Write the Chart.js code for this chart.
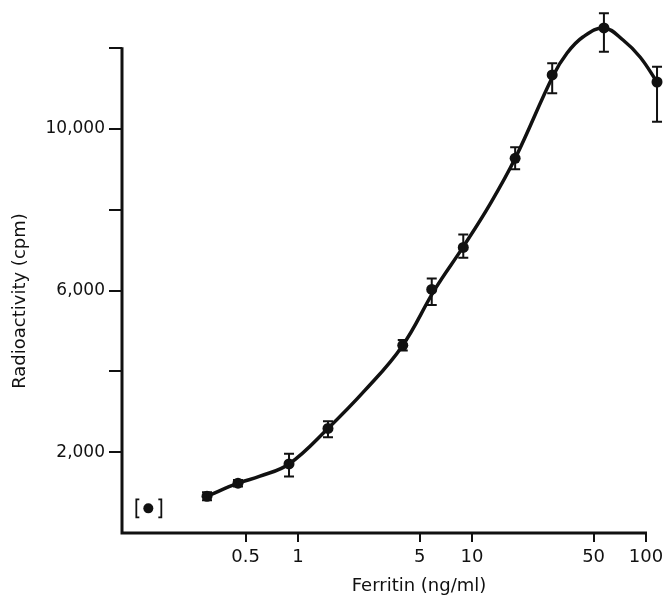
<!DOCTYPE html>
<html>
<head>
<meta charset="utf-8">
<script src="https://cdn.jsdelivr.net/npm/chart.js@4.4.0/dist/chart.umd.min.js"></script>
<style>
  html, body { margin: 0; padding: 0; background: #fff; }
</style>
</head>
<body>
<canvas id="grafica" width="665" height="600"></canvas>
<script>
const ferritina = [0.300, 0.452, 0.888, 1.487, 4.00, 5.87, 8.91, 17.7, 28.9, 57.3, 115.7];
const cuentas = [910, 1232, 1709, 2589, 4645, 6030, 7070, 9274, 11338, 12502, 11164];
const errorArriba = [100, 80, 250, 180, 130, 273, 322, 273, 289, 363, 379];
const errorAbajo = [100, 80, 310, 220, 130, 389, 258, 272, 454, 588, 983];

// Curva ajustada
const curvaX = [0.300, 0.452, 0.605, 0.888, 1.487, 2.43, 3.97, 6.13, 8.88, 12.7, 17.8, 29.2, 35.2, 43.4, 57.3, 73.8, 92.4, 115.7];
const curvaY = [910, 1232, 1406, 1709, 2589, 3535, 4625, 6037, 7077, 8142, 9294, 11313, 11882, 12279, 12502, 12204, 11783, 11164];

// Blanco (entre corchetes)
const blancoX = [0.138];
const blancoY = [610];

// Marcas de los ejes
const ticksX = [0.5, 1, 5, 10, 50, 100];
const etiquetasX = ['0.5', '1', '5', '10', '50', '100'];
const ticksY = [2000, 4000, 6000, 8000, 10000, 12000];
const etiquetasY = ['2,000', '', '6,000', '', '10,000', ''];
const limitesX = [0.0974, 100];
const limitesY = [0, 12000];

const fuente = 'DejaVu Sans';
const negro = '#111';

// Ejes, barras de error, corchetes del blanco y títulos
const pluginExtras = {
    id: 'extras',
    afterDatasetsDraw(chart) {
        const { ctx, scales } = chart;
        const sx = scales.x, sy = scales.y;
        ctx.save();
        ctx.strokeStyle = negro;

        // líneas de los ejes
        const x0 = sx.getPixelForValue(limitesX[0]);
        const x1 = sx.getPixelForValue(limitesX[1]);
        const y0 = sy.getPixelForValue(limitesY[0]);
        const y1 = sy.getPixelForValue(limitesY[1]);
        ctx.lineWidth = 3;
        ctx.beginPath();
        ctx.moveTo(x0, y1 - 1); ctx.lineTo(x0, y0 + 1.5);
        ctx.moveTo(x0 - 1.5, y0); ctx.lineTo(x1 + 1, y0);
        ctx.stroke();

        // barras de error
        ctx.lineWidth = 2;
        for (let i = 0; i < ferritina.length; i++) {
            const x = sx.getPixelForValue(ferritina[i]);
            const ya = sy.getPixelForValue(cuentas[i] + errorArriba[i]);
            const yb = sy.getPixelForValue(cuentas[i] - errorAbajo[i]);
            ctx.beginPath();
            ctx.moveTo(x, ya); ctx.lineTo(x, yb);
            ctx.moveTo(x - 5, ya); ctx.lineTo(x + 5, ya);
            ctx.moveTo(x - 5, yb); ctx.lineTo(x + 5, yb);
            ctx.stroke();
        }

        // corchetes
        const bx = sx.getPixelForValue(blancoX[0]);
        const by = sy.getPixelForValue(blancoY[0]);
        ctx.lineWidth = 1.8;
        ctx.beginPath();
        ctx.moveTo(bx - 9, by - 9); ctx.lineTo(bx - 12, by - 9); ctx.lineTo(bx - 12, by + 9); ctx.lineTo(bx - 9, by + 9);
        ctx.moveTo(bx + 10, by - 9); ctx.lineTo(bx + 13, by - 9); ctx.lineTo(bx + 13, by + 9); ctx.lineTo(bx + 10, by + 9);
        ctx.stroke();

        // títulos de los ejes
        ctx.fillStyle = negro;
        ctx.font = '18px "' + fuente + '"';
        ctx.textAlign = 'center';
        ctx.textBaseline = 'middle';
        ctx.fillText('Ferritin (ng/ml)', 419, 586);
        ctx.translate(20, 301);
        ctx.rotate(-Math.PI / 2);
        ctx.fillText('Radioactivity (cpm)', 0, 0);
        ctx.restore();
    }
};

const datos = {
    datasets: [
        {
            // curva
            data: curvaX.map((v, i) => ({ x: v, y: curvaY[i] })),
            borderColor: negro,
            borderWidth: 3.5,
            pointRadius: 0,
            tension: 0.4,
            clip: false
        },
        {
            // puntos medidos
            data: ferritina.map((v, i) => ({ x: v, y: cuentas[i] })),
            showLine: false,
            backgroundColor: negro,
            borderColor: negro,
            pointRadius: 5.5,
            pointBorderWidth: 0,
            clip: false
        },
        {
            // blanco
            data: blancoX.map((v, i) => ({ x: v, y: blancoY[i] })),
            showLine: false,
            backgroundColor: negro,
            borderColor: negro,
            pointRadius: 5,
            pointBorderWidth: 0,
            clip: false
        }
    ]
};

const config = {
    type: 'line',
    data: datos,
    plugins: [pluginExtras],
    options: {
        responsive: false,
        animation: false,
        layout: { autoPadding: false, padding: { left: 0, top: 20, right: 12, bottom: 0 } },
        plugins: { legend: { display: false }, tooltip: { enabled: false } },
        scales: {
            x: {
                type: 'logarithmic',
                min: 0.0974,
                max: 109.7,
                afterBuildTicks: (escala) => { escala.ticks = ticksX.map(v => ({ value: v })); },
                afterFit: (escala) => { escala.height = 67; },
                ticks: {
                    autoSkip: false,
                    maxRotation: 0,
                    padding: 0,
                    color: negro,
                    font: { family: fuente, size: 18, lineHeight: 1.65 },
                    callback: (v) => { const k = ticksX.indexOf(v); return k >= 0 ? etiquetasX[k] : null; }
                },
                grid: { drawOnChartArea: false, drawTicks: true, tickLength: 9, color: negro, lineWidth: 2 },
                border: { display: false }
            },
            y: {
                type: 'linear',
                min: 0,
                max: 12699,
                afterBuildTicks: (escala) => { escala.ticks = ticksY.map(v => ({ value: v })); },
                afterFit: (escala) => { escala.width = 122; },
                ticks: {
                    padding: 4,
                    color: negro,
                    font: { family: fuente, size: 17 },
                    callback: (v) => { const k = ticksY.indexOf(v); return k >= 0 ? etiquetasY[k] : null; }
                },
                grid: { drawOnChartArea: false, drawTicks: true, tickLength: 13, color: negro, lineWidth: 2 },
                border: { display: false }
            }
        }
    }
};

const grafica = new Chart(document.getElementById('grafica').getContext('2d'), config);
</script>
</body>
</html>
